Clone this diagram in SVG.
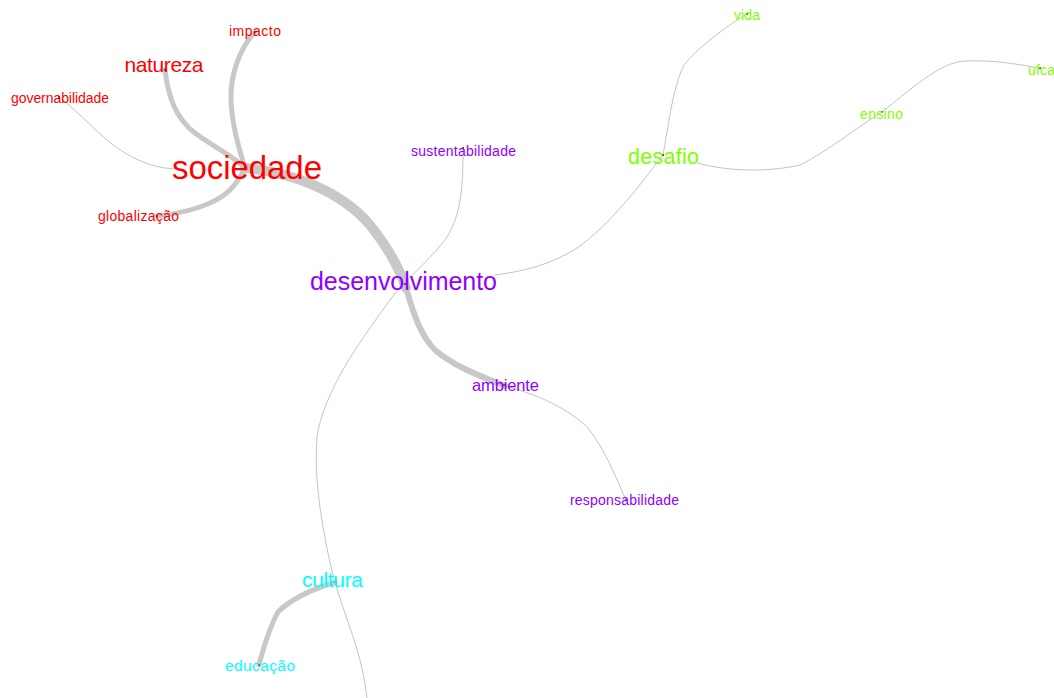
<svg xmlns="http://www.w3.org/2000/svg" width="1054" height="698" viewBox="0 0 1054 698">
<style>
text{font-family:"Liberation Sans",Arial,sans-serif;text-anchor:middle}
.e{fill:none;stroke:#c8c8c8;stroke-linecap:round}
.thin{stroke:#c4c4c4;stroke-width:1}
.r{fill:#ff0000}.p{fill:#8f00ff}.g{fill:#80ff00}.c{fill:#00ffff}
.d{fill:#333}
</style>
<rect width="1054" height="698" fill="#fff"/>
<g id="connectors">
<path class="e" stroke-width="10" d="M245,168 C290,172 340,190 370,225 C390,250 400,270 406,288"/>
<path class="e" stroke-width="6" d="M406,288 C413,312 420,335 435,350 C455,367 480,376 505,386"/>
<path class="e" stroke-width="5" d="M255,32 C240,48 230,75 231,100 C232,125 238,145 245,168"/>
<path class="e" stroke-width="5" d="M165,70 C168,95 175,118 195,133 C212,146 232,155 245,168"/>
<path class="e" stroke-width="5" d="M157,216 C185,213 215,205 230,190 C236,184 241,176 245,168"/>
<path class="e" stroke-width="5" d="M335,582 C310,590 290,600 278,612 C268,630 263,650 259,665"/>
<path class="e thin" d="M60,98 C80,112 100,138 125,153 C145,165 160,168 175,169"/>
<path class="e thin" d="M463,148 C463,185 462,215 445,240 C425,265 405,280 390,300 C365,335 330,380 318,430 C312,470 322,530 333,575 C345,620 362,650 367,698"/>
<path class="e thin" d="M505,386 C540,395 570,410 588,428 C605,450 615,475 626,500"/>
<path class="e thin" d="M663,155 C640,185 610,225 577,248 C550,265 525,271 495,275"/>
<path class="e thin" d="M747,14 C720,30 690,55 683,67 C672,90 668,130 663,155"/>
<path class="e thin" d="M697,163 C730,172 770,172 800,165 C830,150 860,125 882,112 C910,90 940,62 965,61 C1000,60 1020,65 1040,68"/>
</g>
<g id="sociedade"><circle class="d" cx="245" cy="168" r="1"/><text class="r" x="247" y="179" font-size="33" textLength="150">sociedade</text></g>
<g id="natureza"><circle class="d" cx="165" cy="70" r="1"/><text class="r" x="164" y="72" font-size="21" textLength="79">natureza</text></g>
<g id="impacto"><circle class="d" cx="255" cy="32" r="1"/><text class="r" x="255" y="36" font-size="14" textLength="52">impacto</text></g>
<g id="governabilidade"><circle class="d" cx="59" cy="97" r="1"/><text class="r" x="60" y="103" font-size="14" textLength="98">governabilidade</text></g>
<g id="globalizacao"><circle class="d" cx="157" cy="216" r="1"/><text class="r" x="138.5" y="221" font-size="14" textLength="81">globalização</text></g>
<g id="desenvolvimento"><circle class="d" cx="405" cy="284" r="1"/><text class="p" x="403.5" y="290" font-size="25" textLength="187">desenvolvimento</text></g>
<g id="sustentabilidade"><circle class="d" cx="463" cy="148" r="1"/><text class="p" x="463.5" y="156" font-size="14" textLength="105">sustentabilidade</text></g>
<g id="ambiente"><circle class="d" cx="504" cy="385" r="1"/><text class="p" x="505.5" y="391" font-size="16.5" textLength="67">ambiente</text></g>
<g id="responsabilidade"><circle class="d" cx="626" cy="500" r="1"/><text class="p" x="624.5" y="505" font-size="14" textLength="109">responsabilidade</text></g>
<g id="cultura"><circle class="d" cx="335" cy="582" r="1"/><text class="c" x="332.5" y="587" font-size="21" textLength="61">cultura</text></g>
<g id="educacao"><circle class="d" cx="259" cy="665" r="1"/><text class="c" x="260" y="671" font-size="15.5" textLength="70">educação</text></g>
<g id="desafio"><circle class="d" cx="663" cy="155" r="1"/><text class="g" x="663.5" y="164" font-size="21.5" textLength="71">desafio</text></g>
<g id="vida"><circle class="d" cx="747" cy="14" r="1"/><text class="g" x="747" y="20" font-size="14" textLength="26">vida</text></g>
<g id="ensino"><circle class="d" cx="882" cy="112" r="1"/><text class="g" x="881.5" y="119" font-size="14" textLength="43">ensino</text></g>
<g id="ufca"><circle class="d" cx="1040" cy="68" r="1"/><text class="g" x="1041.5" y="75" font-size="14" textLength="27">ufca</text></g>
</svg>
